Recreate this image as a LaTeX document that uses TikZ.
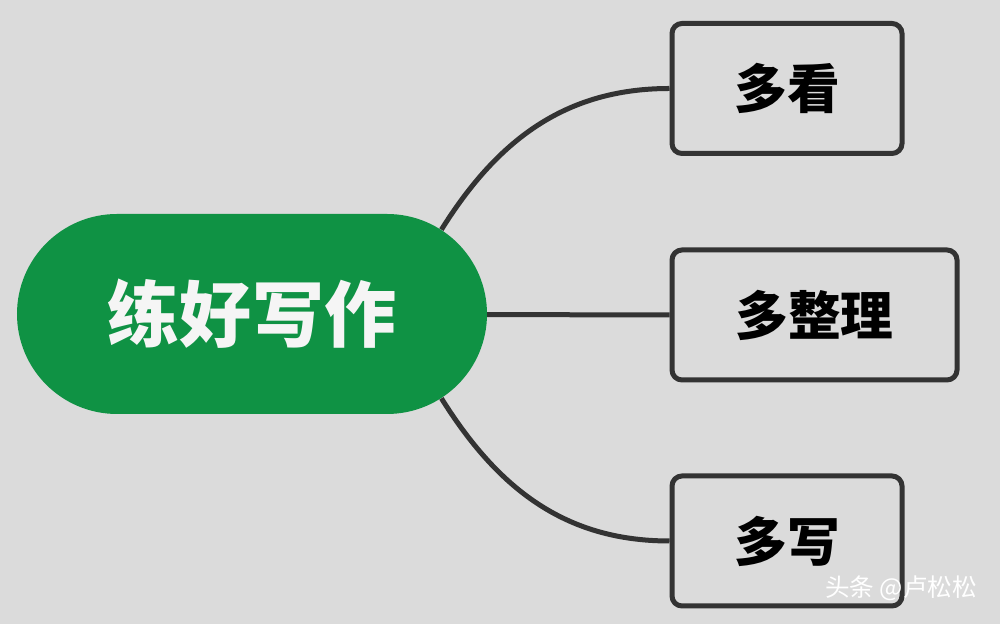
\documentclass[tikz,border=0pt]{standalone}
\usepackage{fontspec}
\newfontfamily\cjk{Noto Sans CJK SC}
\usepackage{tikz}
\usetikzlibrary{shapes.misc}
\definecolor{bggray}{HTML}{DBDBDB}
\definecolor{pillgreen}{HTML}{0F9244}
\definecolor{boxline}{HTML}{333333}
\pgfdeclarelayer{paper}
\pgfdeclarelayer{lines}
\pgfsetlayers{paper,lines,main}

\begin{document}
\begin{tikzpicture}[
		topic/.style={rounded rectangle, fill=pillgreen, minimum width=9.4cm, minimum height=4cm, inner sep=0pt, text=white!92!gray},
		leaf/.style={draw=boxline, rounded corners=0.2cm, line width=0.1cm, minimum height=2.6cm, inner sep=0pt, fill=bggray},
		branch/.style={draw=boxline, line width=0.1cm}
	]
		      \begin{pgfonlayer}{paper}
		      \fill[bggray] (0,0) rectangle (20,12.48);
		      \end{pgfonlayer}
		      \useasboundingbox (0,0) rectangle (20,12.48);

		      \node[topic] (write) at (5.04, 6.2) {\cjk\bfseries\fontsize{41}{46}\selectfont 练好写作};

		      \node[leaf, minimum width=4.6cm] (see) at (15.74, 10.71) {\cjk\bfseries\fontsize{30}{34}\selectfont 多看};
		      \node[leaf, minimum width=5.7cm] (sort) at (16.29, 6.18) {\cjk\bfseries\fontsize{30}{34}\selectfont 多整理};
		      \node[leaf, minimum width=4.6cm] (more) at (15.74, 1.66) {\cjk\bfseries\fontsize{30}{34}\selectfont 多写};

		      \begin{pgfonlayer}{lines}
		      \draw[branch] (write.24) to[out=58, in=180] (see.west);
		      \draw[branch] (write.center) -- (sort.west);
		      \draw[branch] (write.-24) to[out=-58, in=180] (more.west);
		      \end{pgfonlayer}

		      \node[text=white] (mark) at (18.02, 0.72) {\cjk\fontsize{14}{16}\selectfont 头条 @卢松松};
	      \end{tikzpicture}
\end{document}
